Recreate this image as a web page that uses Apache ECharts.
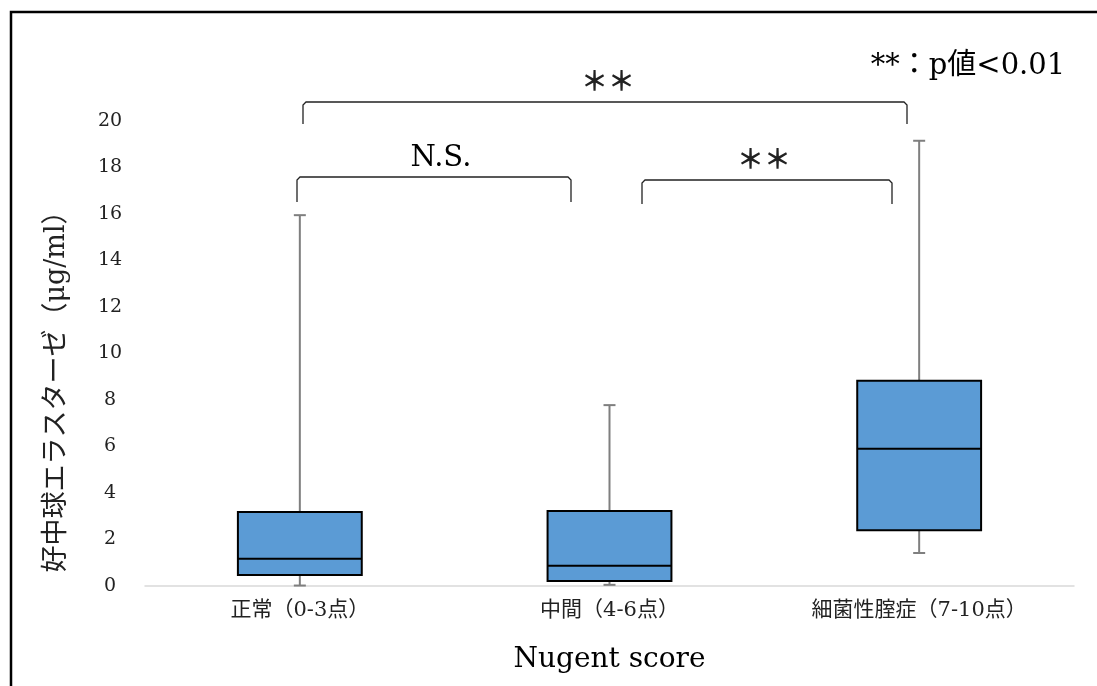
<!DOCTYPE html>
<html>
<head>
<meta charset="utf-8">
<script src="https://cdn.jsdelivr.net/npm/echarts@6/dist/echarts.min.js"></script>
<style>
  html, body { margin: 0; padding: 0; background: #fff; }
  #chart { width: 1097px; height: 686px; }
</style>
</head>
<body>
<div id="chart"></div>
<script>
// 箱ひげ図のデータ
const categories = ['正常（0-3点）', '中間（4-6点）', '細菌性腟症（7-10点）']
const mins = [0.02, 0.05, 1.42]
const q1s = [0.47, 0.22, 2.4]
const medians = [1.17, 0.87, 5.9]
const q3s = [3.18, 3.23, 8.83]
const maxs = [15.95, 7.78, 19.15]
const yTicks = [0, 2, 4, 6, 8, 10, 12, 14, 16, 18, 20]

const serif = '"DejaVu Serif", "Noto Sans CJK JP"'

const boxData = categories.map((c, i) => [i, mins[i], q1s[i], medians[i], q3s[i], maxs[i]])

const chart = echarts.init(document.getElementById('chart'))

const renderBox = (params, api) => {
    const i = api.value(0)
    const lo = api.coord([i, api.value(1)])
    const q1 = api.coord([i, api.value(2)])
    const md = api.coord([i, api.value(3)])
    const q3 = api.coord([i, api.value(4)])
    const hi = api.coord([i, api.value(5)])
    const bw = api.size([1, 0])[0] * 0.4
    const cx = md[0]
    const cap = 6
    const grey = { stroke: '#7f7f7f', lineWidth: 2 }
    return {
        type: 'group',
        children: [
            { type: 'line', shape: { x1: cx, y1: hi[1], x2: cx, y2: q3[1] }, style: grey },
            { type: 'line', shape: { x1: cx - cap, y1: hi[1], x2: cx + cap, y2: hi[1] }, style: grey },
            { type: 'line', shape: { x1: cx, y1: q1[1], x2: cx, y2: lo[1] }, style: grey },
            { type: 'line', shape: { x1: cx - cap, y1: lo[1], x2: cx + cap, y2: lo[1] }, style: grey },
            {
                type: 'rect',
                shape: { x: cx - bw / 2, y: q3[1], width: bw, height: q1[1] - q3[1] },
                style: { fill: '#5b9bd5', stroke: '#000', lineWidth: 2 }
            },
            { type: 'line', shape: { x1: cx - bw / 2, y1: md[1], x2: cx + bw / 2, y2: md[1] }, style: { stroke: '#000', lineWidth: 2 } }
        ]
    }
}

// 有意差の括弧
const bracket = (x1, x2, top, bottom) => ({
    type: 'polyline',
    shape: { points: [[x1, bottom], [x1, top + 3], [x1 + 3, top], [x2 - 3, top], [x2, top + 3], [x2, bottom]] },
    style: { stroke: '#222', lineWidth: 1.3, fill: null }
})

const stars = (x, y) => ({
    type: 'text', x: x, y: y,
    style: { text: '＊＊', font: 'bold 27px "Noto Sans CJK JP"', fill: '#222', align: 'center', verticalAlign: 'middle' }
})

const option = {
    backgroundColor: '#fff',
    animation: false,
    grid: { left: 145, right: 23, top: 121, bottom: 100 },
    xAxis: {
        type: 'category',
        data: categories,
        name: 'Nugent score',
        nameLocation: 'middle',
        nameGap: 60,
        nameTextStyle: { fontFamily: serif, fontSize: 28, color: '#000' },
        axisLine: { lineStyle: { color: '#d9d9d9', width: 1.5 } },
        axisTick: { show: false },
        axisLabel: { fontFamily: serif, fontSize: 21, color: '#222', margin: 14 }
    },
    yAxis: {
        type: 'value',
        min: yTicks[0],
        max: yTicks[yTicks.length - 1],
        interval: 2,
        splitLine: { show: false },
        axisLine: { show: false },
        axisTick: { show: false },
        axisLabel: { fontFamily: serif, fontSize: 19, color: '#222', margin: 35, align: 'center' }
    },
    series: [{
        type: 'custom',
        renderItem: renderBox,
        encode: { x: 0, y: [1, 2, 3, 4, 5] },
        data: boxData
    }],
    graphic: [
        {
            type: 'rect', silent: true,
            shape: { x: 11, y: 12, width: 1200, height: 800 },
            style: { fill: null, stroke: '#000', lineWidth: 2.5 }
        },
        {
            type: 'text', x: 57, y: 385, rotation: Math.PI / 2,
            style: { text: '好中球エラスターゼ（μg/ml）', font: '27px ' + serif, fill: '#222', align: 'center', verticalAlign: 'middle' }
        },
        {
            type: 'text', x: 968, y: 66,
            style: { text: '**：p値<0.01', font: '29px ' + serif, fill: '#000', align: 'center', verticalAlign: 'middle' }
        },
        bracket(303, 907, 102, 124),
        bracket(297, 571, 177, 202),
        bracket(642, 892, 180, 204),
        stars(608, 81),
        {
            type: 'text', x: 441, y: 158,
            style: { text: 'N.S.', font: '29px ' + serif, fill: '#000', align: 'center', verticalAlign: 'middle' }
        },
        stars(764, 159)
    ]
}

chart.setOption(option)
window.addEventListener('resize', () => chart.resize())
</script>
</body>
</html>
